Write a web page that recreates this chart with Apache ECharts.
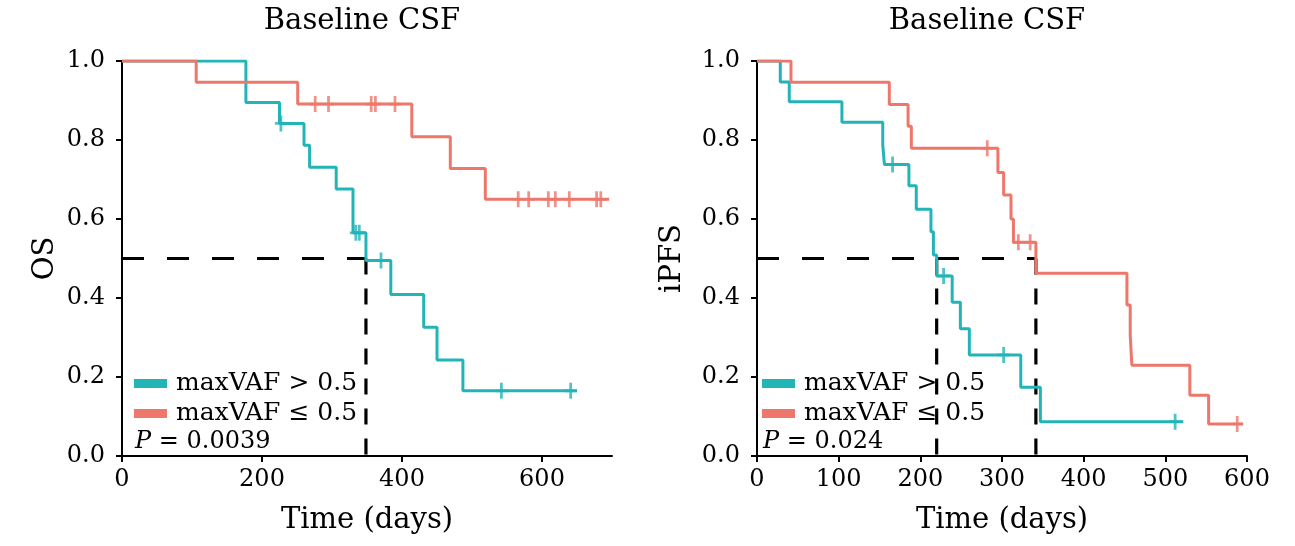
<!DOCTYPE html>
<html>
<head>
<meta charset="utf-8">
<title>Baseline CSF</title>
<script src="https://cdn.jsdelivr.net/npm/echarts@6/dist/echarts.min.js"></script>
<style>
  html, body { margin: 0; padding: 0; background: #fff; }
  #chart { width: 1295px; height: 546px; }
</style>
</head>
<body>
<div id="chart"></div>
<script>
// Kaplan-Meier step curves (time in days, survival fraction)
var osHighTime = [0, 177, 225, 260, 268, 306, 330, 348.5, 384, 431, 450, 487, 650];
var osHighSurv = [1.0, 0.895, 0.842, 0.787, 0.731, 0.676, 0.565, 0.495, 0.409, 0.326, 0.243, 0.165, 0.165];
var osHighCensor = [227, 334, 339, 370, 542, 641];

var osLowTime = [0, 106, 251, 414, 469, 519, 696];
var osLowSurv = [1.0, 0.946, 0.891, 0.808, 0.728, 0.65, 0.65];
var osLowCensor = [276, 295, 356, 362, 390, 566, 581, 609, 619, 639, 678, 684];

var pfsHighTime = [0, 28.5, 39.5, 104, 154, 156, 186, 195, 213, 216, 220, 239, 249, 260, 323, 347, 522];
var pfsHighSurv = [1.0, 0.947, 0.897, 0.845, 0.787, 0.738, 0.684, 0.625, 0.568, 0.509, 0.456, 0.389, 0.322, 0.256, 0.174, 0.087, 0.087];
var pfsHighCensor = [166, 228.5, 302, 512];

var pfsLowTime = [0, 41.6, 162, 185, 189, 295, 302, 311, 314, 341.5, 453, 457, 459, 530, 553, 595];
var pfsLowSurv = [1.0, 0.946, 0.89, 0.835, 0.779, 0.718, 0.661, 0.6, 0.541, 0.4625, 0.382, 0.306, 0.230, 0.154, 0.081, 0.081];
var pfsLowCensor = [282, 320, 334.5, 588];

// median survival times (dashed guides at S = 0.5)
var osMedians = [348.5];
var pfsMedians = [220, 341.5];

var seriesNames = ["maxVAF > 0.5", "maxVAF \u2264 0.5"];
var pValues = ["0.0039", "0.024"];
var panelTitles = ["Baseline CSF", "Baseline CSF"];
var yNames = ["OS", "iPFS"];
var xName = "Time (days)";
var yTicks = [0, 0.2, 0.4, 0.6, 0.8, 1.0];

var TEAL = "#22B4B7";
var RED = "#EE776B";
var FONT = "'DejaVu Serif', 'Liberation Serif', serif";

function zipCurve(times, surv) {
  return times.map(function (t, i) { return [t, surv[i]]; });
}

function stepValue(t, times, surv) {
  var v = surv[0];
  for (var i = 0; i < times.length; i++) {
    if (times[i] <= t) v = surv[i];
  }
  return v;
}

function censorData(cens, times, surv) {
  return cens.map(function (t) { return [t, stepValue(t, times, surv)]; });
}

var plusPath = "path://M4,0h2.4v6h4v2.4h-4v6h-2.4v-6h-4v-2.4h4z";

function kmSeries(idx, name, color, times, surv, cens) {
  return [
    {
      name: name,
      type: "line",
      xAxisIndex: idx,
      yAxisIndex: idx,
      step: "end",
      showSymbol: false,
      lineStyle: { color: color, width: 3 },
      itemStyle: { color: color },
      data: zipCurve(times, surv),
      z: 3
    },
    {
      type: "scatter",
      xAxisIndex: idx,
      yAxisIndex: idx,
      symbol: plusPath,
      symbolSize: [12, 16],
      itemStyle: { color: color },
      data: censorData(cens, times, surv),
      z: 4
    }
  ];
}

function medianSeries(idx, medians) {
  var out = [];
  var far = Math.max.apply(null, medians);
  out.push({
    type: "line",
    xAxisIndex: idx,
    yAxisIndex: idx,
    showSymbol: false,
    lineStyle: { color: "#000", width: 3, type: [22, 23] },
    data: [[0, 0.5], [far, 0.5]],
    z: 2
  });
  medians.forEach(function (m) {
    out.push({
      type: "line",
      xAxisIndex: idx,
      yAxisIndex: idx,
      showSymbol: false,
      lineStyle: { color: "#000", width: 3.2, type: [16, 14] },
      data: [[m, 0.5], [m, 0]],
      z: 2
    });
  });
  return out;
}

function xAxisCfg(idx, max, interval, showMax) {
  return {
    type: "value",
    gridIndex: idx,
    min: 0,
    max: max,
    interval: interval,
    name: xName,
    nameLocation: "middle",
    nameGap: 50,
    nameTextStyle: { fontFamily: FONT, fontSize: 29, color: "#000" },
    axisLine: { show: true, onZero: false, lineStyle: { color: "#000", width: 2 } },
    axisTick: { show: true, length: 6, lineStyle: { color: "#000", width: 2 } },
    axisLabel: { fontFamily: FONT, fontSize: 24, color: "#000", margin: 12, showMaxLabel: showMax },
    splitLine: { show: false }
  };
}

function yAxisCfg(idx, name, gap) {
  return {
    type: "value",
    gridIndex: idx,
    min: yTicks[0],
    max: yTicks[yTicks.length - 1],
    interval: 0.2,
    name: name,
    nameLocation: "middle",
    nameGap: gap,
    nameTextStyle: { fontFamily: FONT, fontSize: 29, color: "#000" },
    axisLine: { show: true, onZero: false, lineStyle: { color: "#000", width: 2 } },
    axisTick: { show: true, length: 6, lineStyle: { color: "#000", width: 2 } },
    axisLabel: {
      fontFamily: FONT, fontSize: 24, color: "#000", margin: 17,
      formatter: function (v) { return v.toFixed(1); }
    },
    splitLine: { show: false }
  };
}

function legendCfg(left) {
  return {
    data: seriesNames,
    orient: "vertical",
    left: left,
    top: 370,
    icon: "rect",
    itemWidth: 33,
    itemHeight: 9,
    itemGap: 3,
    padding: 0,
    selectedMode: false,
    textStyle: { fontFamily: FONT, fontSize: 25, color: "#000", lineHeight: 27, padding: [0, 0, 0, 4] }
  };
}

function titleText(x, text) {
  return {
    type: "text",
    x: x,
    y: 21,
    style: {
      text: text,
      fontFamily: FONT,
      fontSize: 29,
      fill: "#000",
      align: "center",
      verticalAlign: "middle"
    }
  };
}

function pText(x, val) {
  return {
    type: "text",
    x: x,
    y: 442,
    style: {
      text: "{i|P} = " + val,
      fontFamily: FONT,
      fontSize: 24,
      fill: "#000",
      verticalAlign: "middle",
      rich: {
        i: { fontFamily: FONT, fontSize: 24, fontStyle: "italic", fill: "#000" }
      }
    }
  };
}

var chart = echarts.init(document.getElementById("chart"));

var series = []
  .concat(medianSeries(0, osMedians))
  .concat(kmSeries(0, seriesNames[0], TEAL, osHighTime, osHighSurv, osHighCensor))
  .concat(kmSeries(0, seriesNames[1], RED, osLowTime, osLowSurv, osLowCensor))
  .concat(medianSeries(1, pfsMedians))
  .concat(kmSeries(1, seriesNames[0], TEAL, pfsHighTime, pfsHighSurv, pfsHighCensor))
  .concat(kmSeries(1, seriesNames[1], RED, pfsLowTime, pfsLowSurv, pfsLowCensor));

chart.setOption({
  animation: false,
  backgroundColor: "#fff",
  grid: [
    { left: 122, top: 61, width: 490, height: 395 },
    { left: 757, top: 61, width: 490, height: 395 }
  ],
  xAxis: [xAxisCfg(0, 700, 200, false), xAxisCfg(1, 600, 100, true)],
  yAxis: [yAxisCfg(0, yNames[0], 62), yAxisCfg(1, yNames[1], 70)],
  legend: [legendCfg(134), legendCfg(762)],
  graphic: [
    titleText(362, panelTitles[0]),
    titleText(987, panelTitles[1]),
    pText(135, pValues[0]),
    pText(763, pValues[1])
  ],
  series: series
});
</script>
</body>
</html>
